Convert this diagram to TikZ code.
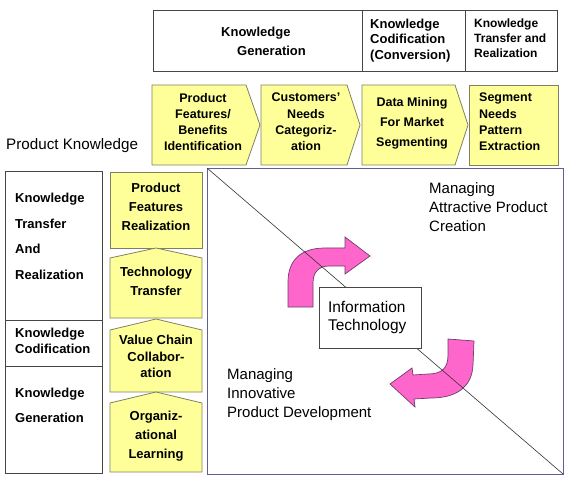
\documentclass[tikz,border=0pt]{standalone}
\usepackage{fontspec}
\setmainfont{Liberation Sans}
\definecolor{yfill}{RGB}{255,255,153}
\definecolor{ybord}{RGB}{128,128,96}
\definecolor{pinkf}{RGB}{255,102,204}
\definecolor{pinkd}{RGB}{110,60,110}
\definecolor{sqbord}{RGB}{95,95,150}
\definecolor{gbord}{RGB}{70,70,70}
\tikzset{
  ybox/.style={draw=ybord, fill=yfill, line width=0.8pt},
  wbox/.style={draw=gbord, line width=0.8pt},
  arr/.style={draw=pinkd, fill=pinkf, line width=0.7pt},
  btxt/.style={font=\bfseries\fontsize{12.5}{16.3}\selectfont, align=center, inner sep=0pt},
  ltxt/.style={font=\bfseries\fontsize{13}{25.6}\selectfont, align=left, inner sep=0pt, anchor=west},
  ntxt/.style={font=\fontsize{15}{19}\selectfont, align=left, inner sep=0pt, anchor=west},
}
\begin{document}
\begin{tikzpicture}[x=1pt,y=-1pt]
\useasboundingbox (0,0) rectangle (567,478);
% top header box
\draw[wbox] (153,10) rectangle (557,71);
\draw[wbox] (362,10) -- (362,71);
\draw[wbox] (465,10) -- (465,71);
\node[font=\bfseries\fontsize{13}{19}\selectfont, align=left, inner sep=0pt, anchor=west] (hgen) at (221,41.5) {Knowledge\\\hspace{16pt}Generation};
\node[font=\bfseries\fontsize{13}{15.5}\selectfont, align=left, inner sep=0pt, anchor=west] (hcod) at (370,40.5) {Knowledge\\Codification\\(Conversion)};
\node[font=\bfseries\fontsize{12}{15}\selectfont, align=left, inner sep=0pt, anchor=west] (htr) at (474,38) {Knowledge\\Transfer and\\Realization};
% chevrons
\draw[ybox] (152,85) -- (246,85) -- (260,125) -- (246,165) -- (152,165) -- cycle;
\draw[ybox] (261,85) -- (347,85) -- (360,125) -- (347,165) -- (261,165) -- cycle;
\draw[ybox] (362,85) -- (455,85) -- (468,125) -- (455,165) -- (362,165) -- cycle;
\draw[ybox] (469,85) -- (558,85) -- (558,165) -- (469,165) -- cycle;
\node[btxt] (c1) at (203,122) {Product\\Features/\\Benefits\\Identification};
\node[btxt] (c2) at (306,122) {Customers'\\Needs\\Categoriz-\\ation};
\node[btxt, font=\bfseries\fontsize{12.5}{20}\selectfont] (c3) at (412,123) {Data Mining\\For Market\\Segmenting};
\node[btxt, align=left, anchor=west] (c4) at (479,122) {Segment\\Needs\\Pattern\\Extraction};
% product knowledge label
\node[font=\fontsize{15.2}{18}\selectfont, inner sep=0pt, anchor=west] (pk) at (6,146) {Product Knowledge};
% left column
\draw[wbox] (5,171) rectangle (102,320);
\draw[wbox] (5,320) rectangle (102,366);
\draw[wbox] (5,366) rectangle (102,473);
\node[ltxt] (l1) at (15,236.5) {Knowledge\\Transfer\\And\\Realization};
\node[ltxt, font=\bfseries\fontsize{13}{16}\selectfont] (l2) at (15,341) {Knowledge\\Codification};
\node[ltxt] (l3) at (15,405.5) {Knowledge\\Generation};
% yellow column
\draw[ybox] (110,172) rectangle (202,248);
\draw[ybox] (110,258) -- (156,248) -- (202,258) -- (202,318) -- (110,318) -- cycle;
\draw[ybox] (110,330) -- (156,319) -- (202,330) -- (202,392) -- (110,392) -- cycle;
\draw[ybox] (110,403) -- (156,392) -- (202,403) -- (202,472) -- (110,472) -- cycle;
\node[btxt, font=\bfseries\fontsize{13}{19}\selectfont] (v1) at (156,207) {Product\\Features\\Realization};
\node[btxt, font=\bfseries\fontsize{13}{19}\selectfont] (v2) at (156,281.5) {Technology\\Transfer};
\node[btxt, font=\bfseries\fontsize{13}{16.5}\selectfont] (v3) at (156,356.5) {Value Chain\\Collabor-\\ation};
\node[btxt, font=\bfseries\fontsize{13}{19}\selectfont] (v4) at (156,436) {Organiz-\\ational\\Learning};
% main square
\draw[draw=sqbord, line width=0.8pt] (207,168) rectangle (563,474);
% pink arrows
\draw[arr] (288,307) -- (288,282) .. controls (288,260) and (301,248) .. (325,248)
  -- (345,248) -- (345,237) -- (370,256) -- (345,274) -- (345,266) -- (329,266)
  .. controls (319,266) and (313,272) .. (313,283) -- (313,307) -- cycle;
\draw[arr] (448,339) -- (474,341) -- (473,365) .. controls (472,388) and (455,398) .. (431,398)
  -- (414,399) -- (415,407) -- (390,384) -- (412,368) -- (413,375) -- (428,374)
  .. controls (442,374) and (448,368) .. (448,355) -- cycle;
% diagonal
\coordinate (dtl) at (207,168);
\coordinate (dbr) at (563,474);
\draw[line width=0.6pt, black!80] (dtl) -- (dbr);
% IT box
\node[draw=gbord, fill=white, line width=0.8pt, minimum width=102pt, minimum height=61pt, inner sep=0pt,
  font=\fontsize{15.5}{18.5}\selectfont, align=left, text width=84pt] (it) at (370,317.5) {Information\\Technology};
% managing texts
\node[ntxt] (mac) at (429,207) {Managing\\Attractive Product\\Creation};
\node[ntxt] (mip) at (227,395) {Managing\\Innovative\\Product Development};
\end{tikzpicture}
\end{document}
